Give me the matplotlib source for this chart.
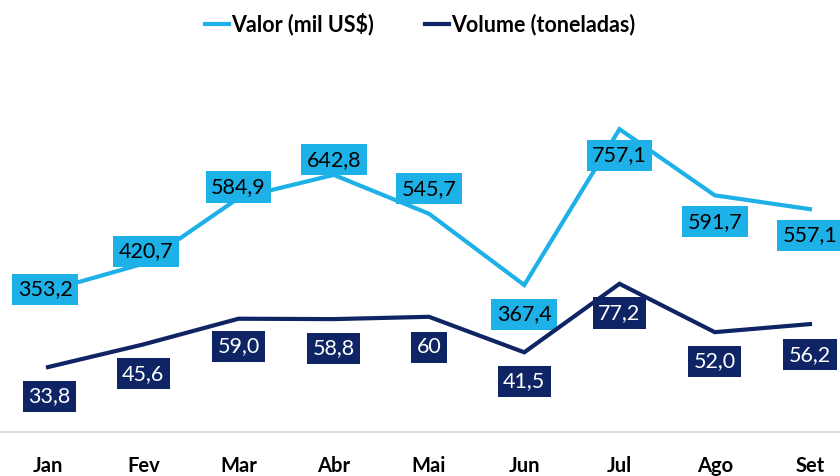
import matplotlib
matplotlib.use("Agg")
import matplotlib.pyplot as plt
from matplotlib.lines import Line2D

plt.rcParams['font.family'] = ['Lato', 'DejaVu Sans']

meses = ['Jan', 'Fev', 'Mar', 'Abr', 'Mai', 'Jun', 'Jul', 'Ago', 'Set']
valor = [353.2, 420.7, 584.9, 642.8, 545.7, 367.4, 757.1, 591.7, 557.1]
volume = [33.8, 45.6, 59.0, 58.8, 60.0, 41.5, 77.2, 52.0, 56.2]
valor_txt = ['353,2', '420,7', '584,9', '642,8', '545,7', '367,4', '757,1', '591,7', '557,1']
volume_txt = ['33,8', '45,6', '59,0', '58,8', '60', '41,5', '77,2', '52,0', '56,2']

# label offsets in points (manually placed in the original)
valor_off = [(-2, 1), (2, 9), (0, 8), (0, 11), (0, 18), (0, -21), (0, -19), (0, -19), (0, -19)]
volume_off = [(1, -21), (0, -21), (0, -20), (0, -21), (0, -22), (0, -21), (0, -21), (0, -21), (0, -22)]

cor_valor = '#1EB1E7'
cor_volume = '#0F2464'

fig = plt.figure(figsize=(8.4, 4.76), dpi=100)
ax = fig.add_axes([0, (476 - 432) / 476, 1, 360 / 476])
ax2 = ax.twinx()

x = list(range(len(meses)))
ax.plot(x, valor, color=cor_valor, lw=3, solid_joinstyle='miter', zorder=2)
ax2.plot(x, volume, color=cor_volume, lw=3, solid_joinstyle='miter', zorder=2)

ax.set_xlim(-0.504, 8.315)
ax.set_ylim(0, 900)
ax2.set_ylim(0, 187.5)

for i in x:
    ax.annotate(valor_txt[i], (i, valor[i]), xytext=valor_off[i], textcoords='offset points',
                ha='center', va='center', fontsize=15.5, color='black',
                bbox=dict(boxstyle='square,pad=0.26', fc=cor_valor, ec='none'), zorder=5)
    ax2.annotate(volume_txt[i], (i, volume[i]), xytext=volume_off[i], textcoords='offset points',
                 ha='center', va='center', fontsize=15.5, color='white',
                 bbox=dict(boxstyle='square,pad=0.26', fc=cor_volume, ec='none'), zorder=5)

for a in (ax, ax2):
    for s in ('top', 'left', 'right'):
        a.spines[s].set_visible(False)
    a.spines['bottom'].set_color('#D9D9D9')
    a.spines['bottom'].set_linewidth(1.2)
    a.set_yticks([])

ax2.spines['bottom'].set_visible(False)
ax.set_xticks(x)
ax.set_xticklabels(meses, fontsize=14.5, fontweight='bold')
ax.tick_params(axis='x', length=0, pad=17)

handles = [Line2D([], [], color=cor_valor, lw=3), Line2D([], [], color=cor_volume, lw=3)]
fig.legend(handles, ['Valor (mil US$)', 'Volume (toneladas)'], loc='center',
           bbox_to_anchor=(0.5, 1 - 24 / 476), ncol=2, frameon=False,
           prop={'size': 15.5, 'weight': 'bold'}, handlelength=1.1, handletextpad=0.1,
           columnspacing=2.4)

fig.savefig('out.png', dpi=100)
